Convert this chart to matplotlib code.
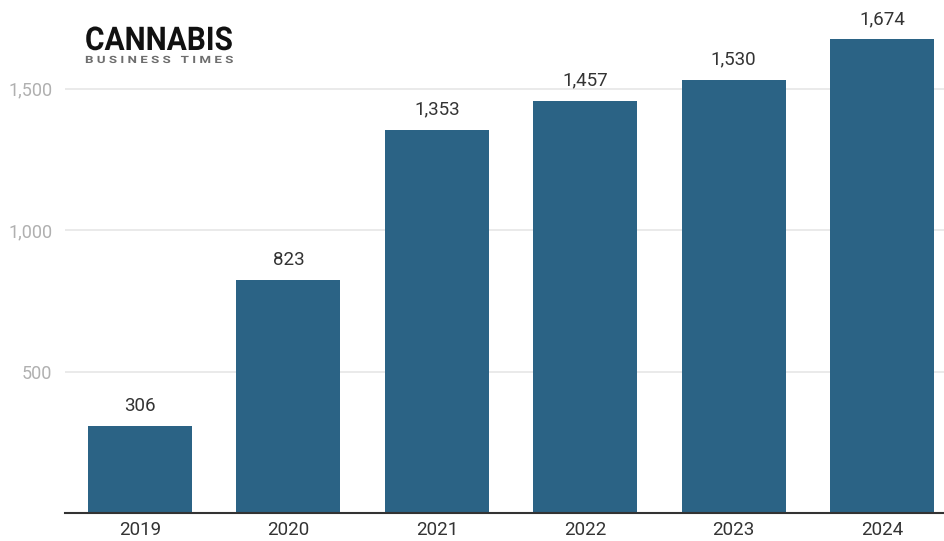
import matplotlib
matplotlib.use("Agg")
import matplotlib.pyplot as plt
from matplotlib.patheffects import AbstractPathEffect
from matplotlib.transforms import Affine2D

years  = ["2019", "2020", "2021", "2022", "2023", "2024"]
values = [306, 823, 1353, 1457, 1530, 1674]
yticks = [500, 1000, 1500]

BAR_COLOUR = "#2b6385"

plt.rcParams["font.family"] = ["Roboto", "DejaVu Sans"]


class HStretch(AbstractPathEffect):
    """squeeze a text sideways around its left edge (condensed logo font)"""
    def __init__(self, sx, x0):
        super().__init__()
        self.sx, self.x0 = sx, x0

    def draw_path(self, renderer, gc, tpath, affine, rgbFace=None):
        t = affine + Affine2D().translate(-self.x0, 0).scale(self.sx, 1).translate(self.x0, 0)
        renderer.draw_path(gc, tpath, t, rgbFace)


fig = plt.figure(figsize=(9.44, 5.41), dpi=100)
ax = fig.add_axes([65 / 944, 28 / 541, 879 / 944, 513 / 541])

x = range(len(years))
bars = ax.bar(x, values, width=0.70, color=BAR_COLOUR, zorder=2)
for bar, v in zip(bars, values):
    ax.text(bar.get_x() + bar.get_width() / 2, v + 40, f"{v:,}",
            ha="center", va="bottom", fontsize=13.5, color="#333333")

ax.set_xlim(-0.505, 5.418)
ax.set_ylim(0, 1813)
ax.set_xticks(list(x))
ax.set_xticklabels(years, fontsize=13.5, color="#333333")
ax.set_yticks(yticks)
ax.set_yticklabels([f"{t:,}" for t in yticks], fontsize=13, color="#b0b0b0")
ax.tick_params(axis="both", length=0)
ax.tick_params(axis="y", pad=9)
ax.tick_params(axis="x", pad=6)
ax.grid(True, axis="y", color="#e6e6e6", lw=1.2, zorder=0)

for side in ["top", "right", "left"]:
    ax.spines[side].set_visible(False)
ax.spines["bottom"].set_color("#333333")
ax.spines["bottom"].set_linewidth(1.5)

# logo
logo1 = fig.text(85 / 944, 1 - 50 / 541, "CANNABIS", fontsize=23.5, fontweight="bold",
                 color="#111111", ha="left", va="baseline")
logo2 = fig.text(85 / 944, 1 - 63 / 541, "B U S I N E S S   T I M E S", fontsize=7.2,
                 fontweight="bold", color="#6e6e6e", ha="left", va="baseline")

fig.canvas.draw()
r = fig.canvas.get_renderer()
for t in (logo1, logo2):
    w = t.get_window_extent(r).width
    t.set_path_effects([HStretch(148 / w, 85)])

fig.savefig("out.png", dpi=100)
